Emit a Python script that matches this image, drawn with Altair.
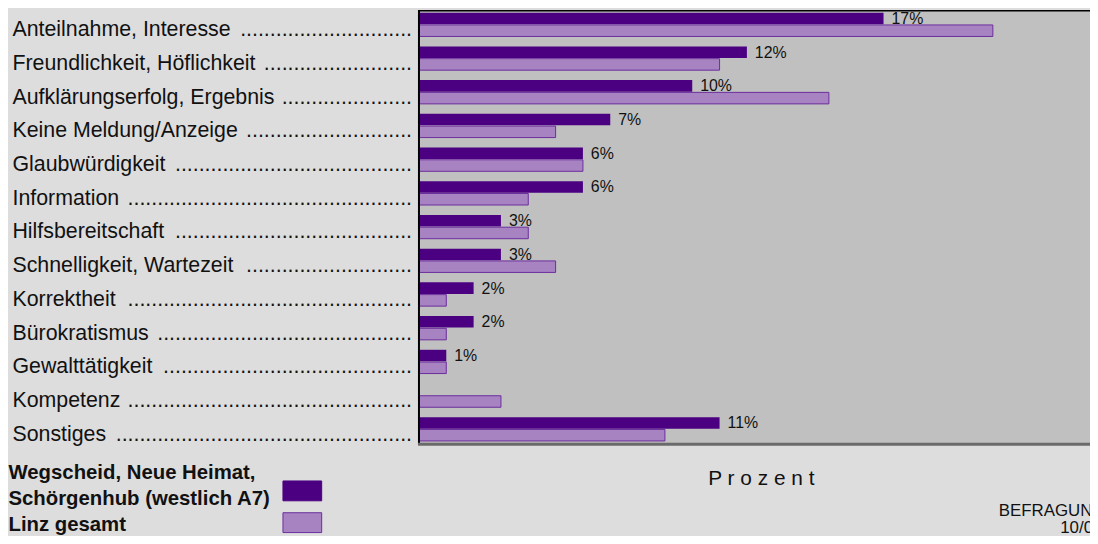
import math
import altair as alt
import pandas as pd

# ---------------- data ----------------
categories = [
    "Anteilnahme, Interesse",
    "Freundlichkeit, Höflichkeit",
    "Aufklärungserfolg, Ergebnis",
    "Keine Meldung/Anzeige",
    "Glaubwürdigkeit",
    "Information",
    "Hilfsbereitschaft",
    "Schnelligkeit, Wartezeit",
    "Korrektheit",
    "Bürokratismus",
    "Gewalttätigkeit",
    "Kompetenz",
    "Sonstiges",
]
wegscheid = [17, 12, 10, 7, 6, 6, 3, 3, 2, 2, 1, 0, 11]
linz = [21, 11, 15, 5, 6, 4, 4, 5, 1, 1, 1, 3, 9]
series_keys = ["W", "L"]
legend_lines = ["Wegscheid, Neue Heimat,", "Schörgenhub (westlich A7)"]
legend_linz = "Linz gesamt"
axis_title = "P r o z e n t"
source_lines = ["BEFRAGUNG", "10/03"]

# ---------------- styling ----------------
FONT = "Liberation Sans, Arial, sans-serif"
LABEL_FS = 21.5
DARK = "#4b0082"
LIGHT = "#a883c2"
LIGHT_STROKE = "#6b2d9c"
PLOT_W, PLOT_H = 676, 437

# Arial / Liberation Sans advance widths (per 1000 em) for dot leaders
W = {' ': 278, ',': 278, '.': 278, '/': 278, 'A': 667, 'B': 667, 'E': 667, 'F': 611,
     'G': 778, 'H': 722, 'I': 278, 'K': 667, 'M': 833, 'S': 667, 'W': 944, 'N': 722,
     'a': 556, 'ä': 556, 'b': 556, 'c': 500, 'd': 556, 'e': 556, 'f': 278, 'g': 556,
     'h': 556, 'i': 222, 'k': 500, 'l': 222, 'm': 833, 'n': 556, 'o': 556, 'ö': 556,
     'p': 556, 'r': 333, 's': 500, 't': 278, 'u': 556, 'ü': 556, 'w': 722, 'z': 500}


def text_em(s):
    return sum(W.get(c, 556) for c in s) / 1000.0


avail_em = 402.5 / LABEL_FS
dots = []
for c in categories:
    n = int(math.floor((avail_em - text_em(c) - 0.278) / 0.278))
    dots.append("." * max(n, 0))

rows = []
for c, a, b in zip(categories, wegscheid, linz):
    rows.append({"cat": c, "s": "W", "v": a, "lab": f"{a}%"})
    rows.append({"cat": c, "s": "L", "v": b, "lab": f"{b}%"})
long_df = pd.DataFrame(rows)
val_df = long_df[(long_df.s == "W") & (long_df.v > 0)]
cat_df = pd.DataFrame({"cat": categories, "dots": dots})
one = pd.DataFrame({"k": [0]})

xmax = PLOT_W / 27.53
x_enc = alt.X("v:Q", scale=alt.Scale(domain=[0, xmax], nice=False, zero=True), axis=None)
y_enc = alt.Y("cat:N", sort=categories,
              scale=alt.Scale(domain=categories, paddingInner=0.295, paddingOuter=0.082),
              axis=None)
yo_enc = alt.YOffset("s:N", sort=series_keys,
                     scale=alt.Scale(domain=series_keys, paddingInner=0.06))

bars = alt.Chart(long_df).mark_bar().encode(
    x=x_enc,
    y=y_enc,
    yOffset=yo_enc,
    color=alt.Color("s:N", scale=alt.Scale(domain=series_keys, range=[DARK, LIGHT]), legend=None),
    stroke=alt.Stroke("s:N", scale=alt.Scale(domain=series_keys, range=[DARK, LIGHT_STROKE]), legend=None),
    strokeWidth=alt.StrokeWidth("s:N", scale=alt.Scale(domain=series_keys, range=[0, 1]), legend=None),
)

values = alt.Chart(val_df).mark_text(
    align="left", baseline="alphabetic", dx=8, dy=5.5, font=FONT, fontSize=16, color="#111111"
).encode(x=x_enc, y=y_enc, yOffset=yo_enc, text="lab:N")

cat_labels = alt.Chart(cat_df).mark_text(
    align="left", baseline="alphabetic", dy=11.7, font=FONT, fontSize=LABEL_FS, color="#111111"
).encode(x=alt.value(-409.5), y=y_enc, text="cat:N")

cat_dots = alt.Chart(cat_df).mark_text(
    align="right", baseline="alphabetic", dy=11.7, font=FONT, fontSize=LABEL_FS, color="#111111"
).encode(x=alt.value(-7), y=y_enc, text="dots:N")

top_rule = alt.Chart(one).mark_rule(color="#000000", strokeWidth=1.5).encode(
    x=alt.value(0), x2=alt.value(PLOT_W), y=alt.value(0.75))
left_rule = alt.Chart(one).mark_rule(color="#000000", strokeWidth=2).encode(
    x=alt.value(0), y=alt.value(0), y2=alt.value(PLOT_H + 1))
bottom_rule = alt.Chart(one).mark_rule(color="#6a6a6a", strokeWidth=3).encode(
    x=alt.value(-1), x2=alt.value(PLOT_W), y=alt.value(PLOT_H + 0.5))


def txt(s, x, y, size, weight="normal", align="left"):
    return alt.Chart(one).mark_text(
        align=align, baseline="alphabetic", font=FONT, fontSize=size,
        fontWeight=weight, color="#111111"
    ).encode(x=alt.value(x), y=alt.value(y), text=alt.value(s))


def box(x1, x2, y1, y2, fill, stroke):
    return alt.Chart(one).mark_rect(fill=fill, stroke=stroke, strokeWidth=1).encode(
        x=alt.value(x1), x2=alt.value(x2), y=alt.value(y1), y2=alt.value(y2))


annotations = [
    txt(legend_lines[0], -413.5, 473, 20.5, "bold"),
    txt(legend_lines[1], -413.5, 498.5, 20.5, "bold"),
    box(-137, -98, 474.5, 494.5, DARK, DARK),
    txt(legend_linz, -413.5, 525, 20.5, "bold"),
    box(-137, -98, 506.5, 526.5, LIGHT, LIGHT_STROKE),
    txt(axis_title, 291.5, 479, 21),
    txt(source_lines[0], 584, 510, 17),
    txt(source_lines[1], 646, 527, 17),
]

chart = alt.layer(
    bars, values, cat_labels, cat_dots, top_rule, left_rule, bottom_rule, *annotations
).properties(
    width=PLOT_W,
    height=PLOT_H,
    padding={"left": 414, "top": 0, "right": 0, "bottom": 91},
    autosize=alt.AutoSizeParams(type="none"),
    background="#dddddd",
).configure_view(fill="#c0c0c0", stroke="transparent", strokeWidth=0)

chart.save("out.html", embed_options={"renderer": "svg", "actions": False})
